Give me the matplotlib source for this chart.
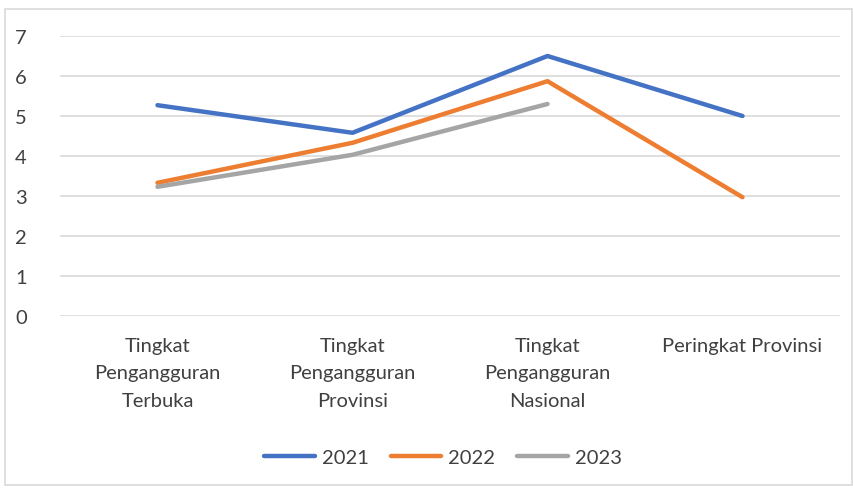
import matplotlib
matplotlib.use('Agg')
import matplotlib.pyplot as plt
from matplotlib.patches import Rectangle

plt.rcParams['font.family'] = ['Lato', 'DejaVu Sans']

categories = ['Tingkat\nPengangguran\nTerbuka', 'Tingkat\nPengangguran\nProvinsi',
              'Tingkat\nPengangguran\nNasional', 'Peringkat Provinsi']
series_2021 = [5.27, 4.58, 6.5, 5.0]
series_2022 = [3.33, 4.33, 5.87, 2.97]
series_2023 = [3.23, 4.03, 5.3]
years = ['2021', '2022', '2023']
colors = ['#4472C4', '#ED7D31', '#A5A5A5']

fig = plt.figure(figsize=(8.54, 4.89), dpi=100)
ax = fig.add_axes([60/854, 1 - 317/489, 780/854, 280/489])

x = list(range(len(categories)))
for vals, lab, c in zip([series_2021, series_2022, series_2023], years, colors):
    ax.plot(x[:len(vals)], vals, color=c, lw=3.2, label=lab, solid_capstyle='round')

ax.set_xlim(-0.5, 3.5)
ax.set_ylim(0, 7)
ax.set_yticks(range(8))
ax.yaxis.grid(True, color='#D9D9D9', lw=1.2)
ax.set_axisbelow(True)
for s in ax.spines.values():
    s.set_visible(False)
ax.set_xticks(x)
ax.set_xticklabels(categories, fontsize=14.5, color='#404040', linespacing=1.75)
ax.tick_params(axis='x', length=0, pad=15)
ax.tick_params(axis='y', length=0, pad=24, labelsize=14.5, labelcolor='#404040')

ax.legend(loc='center', bbox_to_anchor=(443/854, 1 - 458/489), bbox_transform=fig.transFigure,
          ncol=3, frameon=False, fontsize=14.5, handlelength=2.5, handletextpad=0.35,
          columnspacing=1.1, labelcolor='#404040')

fig.patches.append(Rectangle((5/854, 3/489), 847/854, 476/489, transform=fig.transFigure,
                             fill=False, edgecolor='#D9D9D9', lw=1.2))

fig.savefig('out.png', dpi=100)
